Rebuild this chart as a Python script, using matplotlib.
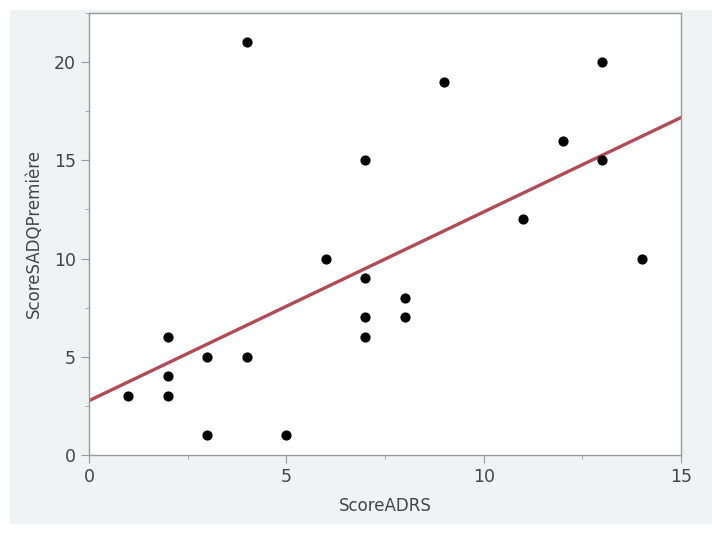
import numpy as np
import matplotlib.pyplot as plt
from matplotlib.patches import Rectangle

# data
score_adrs = [1, 2, 2, 2, 3, 3, 4, 4, 5, 6, 7, 7, 7, 7, 8, 8, 9, 11, 12, 13, 13, 14]
score_sadq = [3, 6, 4, 3, 5, 1, 21, 5, 1, 10, 15, 9, 7, 6, 8, 7, 19, 12, 16, 20, 15, 10]

x_ticks = [0, 5, 10, 15]
y_ticks = [0, 5, 10, 15, 20]

fig = plt.figure(figsize=(7.12, 5.34), dpi=100)
fig.patch.set_facecolor('white')
# grey panel behind the plot, thin white margin on left/top/bottom
fig.patches.append(Rectangle((10 / 712, 10 / 534), 702 / 712, 514 / 534,
                             transform=fig.transFigure, facecolor='#f1f2f3',
                             edgecolor='none', zorder=-10))

ax = fig.add_axes([0.125, 0.148, 0.8315, 0.8277])
ax.set_zorder(1)
ax.set_facecolor('white')

# least squares fit
slope, intercept = np.polyfit(score_adrs, score_sadq, 1)
xs = np.array([0, 15])
ax.plot(xs, intercept + slope * xs, color='#b34a55', lw=2.4, zorder=2)

ax.scatter(score_adrs, score_sadq, s=40, color='black', zorder=3)

ax.set_xlim(0, 15)
ax.set_ylim(0, 22.5)
ax.set_xticks(x_ticks)
ax.set_yticks(y_ticks)
ax.set_xticks(np.arange(0, 15.1, 2.5), minor=True)
ax.set_yticks(np.arange(0, 22.6, 2.5), minor=True)

for s in ax.spines.values():
    s.set_color('#9a9a9a')
    s.set_linewidth(1.0)
ax.tick_params(which='major', length=6, color='#9a9a9a', labelsize=12.5, labelcolor='#444444')
ax.tick_params(which='minor', length=3, color='#9a9a9a')

ax.set_xlabel('ScoreADRS', fontsize=12, color='#444444', labelpad=8)
ax.set_ylabel('ScoreSADQPremière', fontsize=12, color='#444444', labelpad=8)

fig.savefig('out.png', dpi=100, facecolor=fig.get_facecolor())
